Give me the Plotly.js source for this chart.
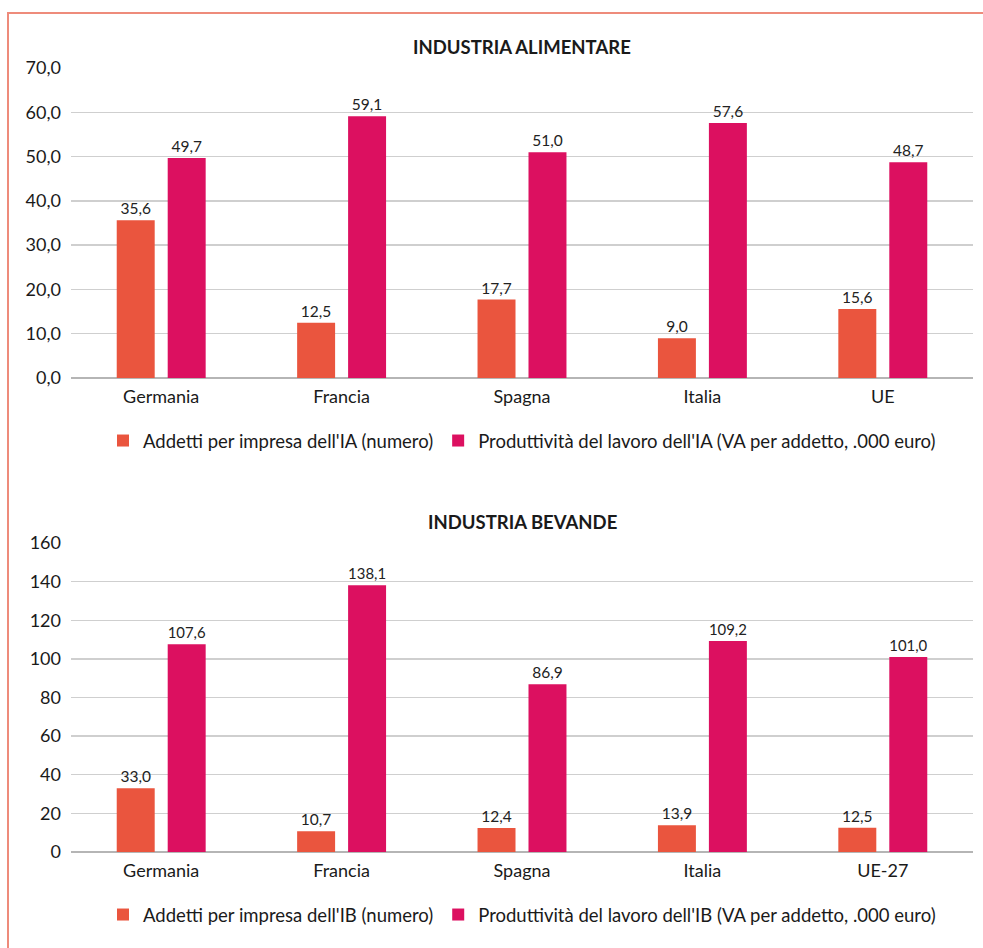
<!DOCTYPE html>
<html><head><meta charset="utf-8">
<script src="https://cdn.plot.ly/plotly-3.0.1.min.js"></script>
<style>html,body{margin:0;padding:0;background:#fff}#chart{width:983px;height:948px}</style>
</head><body><div id="chart"></div>
<script>
const catsIA = ['Germania','Francia','Spagna','Italia','UE'];
const addettiIA = [35.6, 12.5, 17.7, 9.0, 15.6];
const prodIA = [49.7, 59.1, 51.0, 57.6, 48.7];
const catsIB = ['Germania','Francia','Spagna','Italia','UE-27'];
const addettiIB = [33.0, 10.7, 12.4, 13.9, 12.5];
const prodIB = [107.6, 138.1, 86.9, 109.2, 101.0];
const nameAddIA = "Addetti per impresa dell'IA (numero)";
const nameProdIA = "Produttività del lavoro dell'IA (VA per addetto, .000 euro)";
const nameAddIB = "Addetti per impresa dell'IB (numero)";
const nameProdIB = "Produttività del lavoro dell'IB (VA per addetto, .000 euro)";

const ORANGE = '#EA553E', MAGENTA = '#DC1060';
const FONT = 'Lato, "Open Sans", sans-serif';
const W = 983, H = 948, L = 71, R = 10;
const py = p => 1 - p / H;
const px = p => (p - L) / (W - L - R);

function bar(x, y, name, color, xa, ya, leg) {
  return {type:'bar', x, y, name, xaxis:xa, yaxis:ya, legend:leg,
    marker:{color}, texttemplate:'%{y:.1f}', textposition:'outside',
    textfont:{size:15.5, color:'#222', family:FONT}, cliponaxis:false};
}
const data = [
  bar(catsIA, addettiIA, nameAddIA, ORANGE, 'x', 'y', 'legend'),
  bar(catsIA, prodIA, nameProdIA, MAGENTA, 'x', 'y', 'legend'),
  bar(catsIB, addettiIB, nameAddIB, ORANGE, 'x2', 'y2', 'legend2'),
  bar(catsIB, prodIB, nameProdIB, MAGENTA, 'x2', 'y2', 'legend2')
];
const axX = (anchor) => ({anchor, showgrid:false, showline:false, ticks:'', tickfont:{size:18, color:'#1a1a1a', family:FONT}, ticklabelstandoff:6});
const axY = (anchor, range, dtick, fmt, domain) => ({anchor, domain, range, dtick, tickformat:fmt, showgrid:true, gridcolor:'#cfcfcf', gridwidth:1.3,
  zeroline:true, zerolinecolor:'#b5b5b5', zerolinewidth:1.3, tickfont:{size:18, color:'#1a1a1a', family:FONT}, ticklabelstandoff:9});
const legendStyle = (y) => ({orientation:'h', x:0.5, xanchor:'center', y, yanchor:'middle', yref:'paper',
  font:{size:18.5, color:'#1a1a1a', family:FONT}, itemwidth:30, tracegroupgap:0, itemclick:false, bgcolor:'rgba(0,0,0,0)'});

const layout = {
  width:W, height:H, margin:{l:L, r:R, t:0, b:0}, separators:',.',
  paper_bgcolor:'#fff', plot_bgcolor:'#fff', font:{family:FONT, color:'#1a1a1a'},
  barmode:'group', bargap:0.435, bargroupgap:0.255, showlegend:true,
  xaxis: axX('y'),
  yaxis: axY('x', [0, 70], 10, '.1f', [py(378), py(68)]),
  xaxis2: axX('y2'),
  yaxis2: axY('x2', [0, 160], 20, 'd', [py(852), py(543)]),
  legend: legendStyle(py(441)),
  legend2: legendStyle(py(915)),
  annotations:[
    {text:'<b>INDUSTRIA ALIMENTARE</b>', xref:'paper', yref:'paper', x:0.5, y:py(47), xanchor:'center', yanchor:'middle', showarrow:false, font:{size:18.5, color:'#1a1a1a', family:FONT}},
    {text:'<b>INDUSTRIA BEVANDE</b>', xref:'paper', yref:'paper', x:0.5, y:py(522), xanchor:'center', yanchor:'middle', showarrow:false, font:{size:18.5, color:'#1a1a1a', family:FONT}}
  ],
  shapes:[
    {type:'line', xref:'paper', yref:'paper', x0:px(8), x1:px(990), y0:py(13), y1:py(13), line:{color:'#EE8B7B', width:2}},
    {type:'line', xref:'paper', yref:'paper', x0:px(8), x1:px(8), y0:py(12), y1:py(960), line:{color:'#EE8B7B', width:2}}
  ]
};
Plotly.newPlot('chart', data, layout, {displayModeBar:false, staticPlot:true});
</script></body></html>
